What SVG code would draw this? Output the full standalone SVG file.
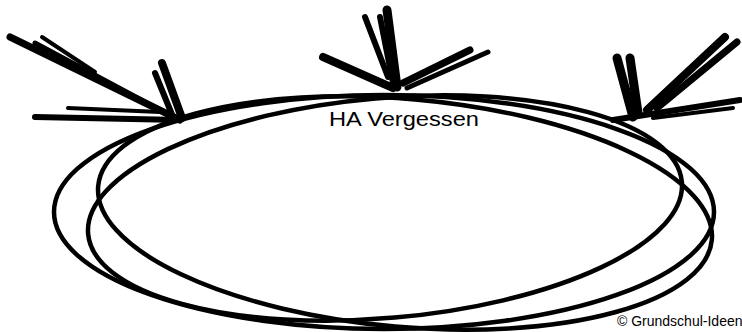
<svg xmlns="http://www.w3.org/2000/svg" width="742" height="332" viewBox="0 0 742 332">
<style>
.loop{fill:none;stroke:#000;stroke-width:4.5;stroke-linecap:round}
.st{fill:none;stroke:#000;stroke-linecap:round}
.t{font-family:"Liberation Sans",Arial,sans-serif;fill:#000}
</style>
<rect width="742" height="332" fill="#fff"/>
<g id="connectors">
  <g id="arrow-left">
    <path class="st" stroke-width="7" d="M10,37 L180,120"/>
    <path class="st" stroke-width="5" d="M35,43 L175,118"/>
    <path class="st" stroke-width="4" d="M42,37 L95,72"/>
    <path class="st" stroke-width="6" d="M35,117 L180,120"/>
    <path class="st" stroke-width="4" d="M68,108 L160,112"/>
    <path class="st" stroke-width="8" d="M162,63 L182,118"/>
    <path class="st" stroke-width="6" d="M155,73 L173,117"/>
  </g>
  <g id="arrow-middle">
    <path class="st" stroke-width="9" d="M387,10 L397,87"/>
    <path class="st" stroke-width="6" d="M380,17 L393,83"/>
    <path class="st" stroke-width="6" d="M365,17 L388,77"/>
    <path class="st" stroke-width="8" d="M323,57 L393,88"/>
    <path class="st" stroke-width="7" d="M470,50 L403,83"/>
    <path class="st" stroke-width="5" d="M488,52 L407,88"/>
  </g>
  <g id="arrow-right">
    <path class="st" stroke-width="9" d="M617,58 L633,117"/>
    <path class="st" stroke-width="9" d="M630,58 L638,113"/>
    <path class="st" stroke-width="8" d="M725,37 L647,110"/>
    <path class="st" stroke-width="7" d="M737,42 L657,108"/>
    <path class="st" stroke-width="6" d="M740,100 L613,120"/>
    <path class="st" stroke-width="4" d="M733,108 L653,118"/>
  </g>
</g>
<g id="node-ellipse">
  <ellipse class="loop" cx="384" cy="212" rx="330" ry="117"/>
  <ellipse class="loop" cx="385" cy="208" rx="298" ry="110" transform="rotate(-5 385 208)"/>
  <ellipse class="loop" cx="405" cy="213" rx="308" ry="114" transform="rotate(5 405 213)"/>
  <text class="t" x="404" y="126" font-size="21" text-anchor="middle" textLength="150" lengthAdjust="spacingAndGlyphs">HA Vergessen</text>
</g>
<text id="copyright" class="t" x="617" y="326" font-size="14">© Grundschul-Ideen</text>
</svg>
